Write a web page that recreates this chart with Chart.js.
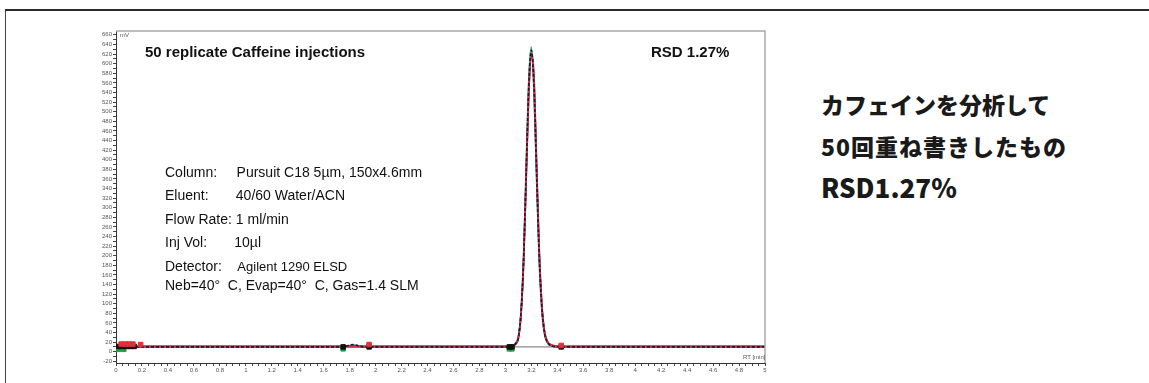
<!DOCTYPE html>
<html>
<head>
<meta charset="utf-8">
<script src="https://cdn.jsdelivr.net/npm/chart.js@4/dist/chart.umd.min.js"></script>
<style>
  body { margin: 0; background: #fff; width: 1149px; height: 383px; overflow: hidden; position: relative; font-family: "Liberation Sans", Arial, sans-serif; }
  #frame { position: absolute; left: 5px; top: 9px; width: 1200px; height: 400px; border-top: 2px solid #2a2a2a; border-left: 1.5px solid #444; }
  #wrap { position: absolute; left: 0; top: 0; width: 775px; height: 383px; }
  .t { position: absolute; white-space: pre; color: #111; line-height: 1; }
  .big { font-size: 15px; font-weight: bold; }
  .info { font-size: 14px; }
  .tiny { font-size: 6px; color: #555; }
  .jp { position: absolute; left: 821px; font-family: "Noto Sans CJK JP", sans-serif; font-weight: 900; font-size: 23px; color: #1a1a1a; line-height: 1; white-space: pre; }
</style>
</head>
<body>
<div id="frame"></div>
<div id="wrap"><canvas id="chromChart" width="775" height="383"></canvas></div>

<div class="t big" style="left:145px; top:44px;">50 replicate Caffeine injections</div>
<div class="t big" style="left:651px; top:44px;">RSD 1.27%</div>
<div class="t info" style="left:165px; top:165px;">Column:     Pursuit C18 5µm, 150x4.6mm</div>
<div class="t info" style="left:165px; top:188px;">Eluent:       40/60 Water/ACN</div>
<div class="t info" style="left:165px; top:212px;">Flow Rate: 1 ml/min</div>
<div class="t info" style="left:165px; top:235px;">Inj Vol:       10µl</div>
<div class="t info" style="left:165px; top:259px;">Detector:    <span style="font-size:13px">Agilent 1290 ELSD</span></div>
<div class="t info" style="left:165px; top:278px;">Neb=40°  C, Evap=40°  C, Gas=1.4 SLM</div>
<div class="t tiny" style="left:120px; top:32px;">mV</div>
<div class="t tiny" style="left:743px; top:354px;">RT [min]</div>

<div class="jp" style="top:93px;">カフェインを分析して</div>
<div class="jp" style="top:135px; letter-spacing:1px;">50回重ね書きしたもの</div>
<div class="jp" style="top:174px; font-size:26px;">RSD1.27%</div>

<script>
// retention time (min) of the read points
const rtMin = [0, 0.15, 1.75, 1.79, 1.83, 1.87, 1.91, 1.95, 3.04, 3.08, 3.10, 3.12, 3.14, 3.16, 3.18, 3.20, 3.22, 3.24, 3.26, 3.28, 3.30, 3.32, 3.36, 3.42, 5];

// a few of the overlaid injections (mV)
const tealRun    = [10, 10, 10, 10, 10, 10, 10, 10, 10, 19, 32, 84, 200, 385, 568, 635, 540, 362, 192, 88, 38, 20, 12, 10, 10];
const blackRun   = [10, 10, 10, 13, 15, 12, 10, 10, 10, 17, 30, 80, 190, 372, 552, 628, 555, 378, 205, 96, 42, 22, 12, 10, 10];
const redRun     = [12, 12, 12, 12, 12, 12, 12, 12, 12, 16, 28, 74, 180, 355, 535, 622, 578, 400, 220, 104, 46, 24, 14, 12, 12];
const blueRun    = [10, 10, 10, 12, 14, 12, 10, 10, 10, 17, 29, 78, 186, 365, 544, 616, 562, 385, 210, 99, 43, 22, 12, 10, 10];
const magentaRun = [11, 11, 11, 11, 11, 11, 11, 11, 11, 16, 28, 76, 182, 360, 538, 612, 570, 392, 215, 101, 44, 23, 13, 11, 11];
const greenRun   = [10, 10, 10, 10, 10, 10, 10, 10, 10, 18, 31, 82, 195, 380, 560, 630, 550, 370, 198, 92, 40, 21, 12, 10, 10];

// integration markers
const greenMarkX = [0.02, 0.06, 1.75, 3.03, 3.05];
const greenMarkY = [5, 5, 6, 6, 6];
const blackMarkX = [0.02, 0.05, 0.08, 0.11, 0.14, 1.75, 1.95, 3.03, 3.05, 3.43];
const blackMarkY = [11, 11, 11, 11, 11, 10, 10, 10, 10, 10];
const redMarkX = [0.04, 0.07, 0.1, 0.13, 0.19, 1.95, 3.43];
const redMarkY = [16, 16, 16, 16, 15, 15, 13];

// integration baselines
const baseSmallX = [1.75, 1.95];
const baseSmallY = [10, 10];
const basePeakX = [3.03, 3.43];
const basePeakY = [10, 10];

// tick labels
const xTicks = [0, 0.2, 0.4, 0.6, 0.8, 1, 1.2, 1.4, 1.6, 1.8, 2, 2.2, 2.4, 2.6, 2.8, 3, 3.2, 3.4, 3.6, 3.8, 4, 4.2, 4.4, 4.6, 4.8, 5];
const yTicks = [-20, 0, 20, 40, 60, 80, 100, 120, 140, 160, 180, 200, 220, 240, 260, 280, 300, 320, 340, 360, 380, 400, 420, 440, 460, 480, 500, 520, 540, 560, 580, 600, 620, 640, 660];

const pts = (xs, ys) => xs.map((x, i) => ({ x, y: ys[i] }));

function run(values, color, dash) {
  return {
    data: pts(rtMin, values),
    borderColor: color,
    borderWidth: 1.6,
    borderDash: dash || [],
    pointRadius: 0,
    cubicInterpolationMode: "monotone",
    fill: false
  };
}

function marks(xs, ys, color) {
  return {
    data: pts(xs, ys),
    showLine: false,
    pointStyle: "rect",
    pointRadius: 3.2,
    backgroundColor: color,
    borderColor: color
  };
}

function base(xs, ys) {
  return { data: pts(xs, ys), borderColor: "#8a8a8a", borderWidth: 1.2, pointRadius: 0 };
}

const framePlugin = {
  id: "frame",
  afterDraw(c) {
    const { ctx, chartArea: a } = c;
    ctx.save();
    ctx.strokeStyle = "#a9a9a9";
    ctx.lineWidth = 1.5;
    ctx.beginPath();
    ctx.moveTo(a.left, a.top);
    ctx.lineTo(a.right, a.top);
    ctx.lineTo(a.right, a.bottom);
    ctx.stroke();
    ctx.restore();
  }
};

const ctx = document.getElementById("chromChart").getContext("2d");

// first dataset is painted on top
new Chart(ctx, {
  type: "line",
  data: {
    datasets: [
      marks(redMarkX, redMarkY, "#e0303a"),
      marks(blackMarkX, blackMarkY, "#111"),
      marks(greenMarkX, greenMarkY, "#1fa040"),
      run(blackRun, "#1b1b2a", [3, 2]),
      run(redRun, "#e2283a"),
      run(magentaRun, "#b0407a"),
      run(blueRun, "#5558b8"),
      run(greenRun, "#3c9a55"),
      run(tealRun, "#2fb0a5"),
      base(baseSmallX, baseSmallY),
      base(basePeakX, basePeakY)
    ]
  },
  options: {
    responsive: false,
    animation: false,
    layout: { padding: { left: 0, right: 10, top: 31, bottom: 0 } },
    plugins: { legend: { display: false }, tooltip: { enabled: false } },
    scales: {
      x: {
        type: "linear",
        min: 0,
        max: 5,
        afterFit: s => { s.height = 20; },
        afterBuildTicks: s => {
          const t = [];
          for (let i = 0; i < xTicks.length - 1; i++) {
            const step = (xTicks[i + 1] - xTicks[i]) / 4;
            for (let k = 0; k < 4; k++) t.push({ value: xTicks[i] + k * step });
          }
          t.push({ value: xTicks[xTicks.length - 1] });
          s.ticks = t;
        },
        ticks: {
          autoSkip: false,
          maxRotation: 0,
          padding: 1,
          color: "#555",
          font: { family: "Liberation Sans", size: 6 },
          callback: v => (xTicks.some(m => Math.abs(m - v) < 1e-6) ? String(+v.toFixed(1)) : "")
        },
        grid: { drawOnChartArea: false, tickLength: 3, color: "#444" },
        border: { color: "#333", width: 1 }
      },
      y: {
        min: -23.5,
        max: 668,
        afterFit: s => { s.width = 116; },
        afterBuildTicks: s => {
          const t = [];
          for (let i = 0; i < yTicks.length - 1; i++) {
            t.push({ value: yTicks[i] });
            t.push({ value: (yTicks[i] + yTicks[i + 1]) / 2 });
          }
          t.push({ value: yTicks[yTicks.length - 1] });
          s.ticks = t;
        },
        ticks: {
          autoSkip: false,
          padding: 1,
          color: "#555",
          font: { family: "Liberation Sans", size: 6 },
          callback: v => (yTicks.includes(v) ? String(v) : "")
        },
        grid: { drawOnChartArea: false, tickLength: 3, color: "#444" },
        border: { color: "#333", width: 1 }
      }
    }
  },
  plugins: [framePlugin]
});
</script>
</body>
</html>
